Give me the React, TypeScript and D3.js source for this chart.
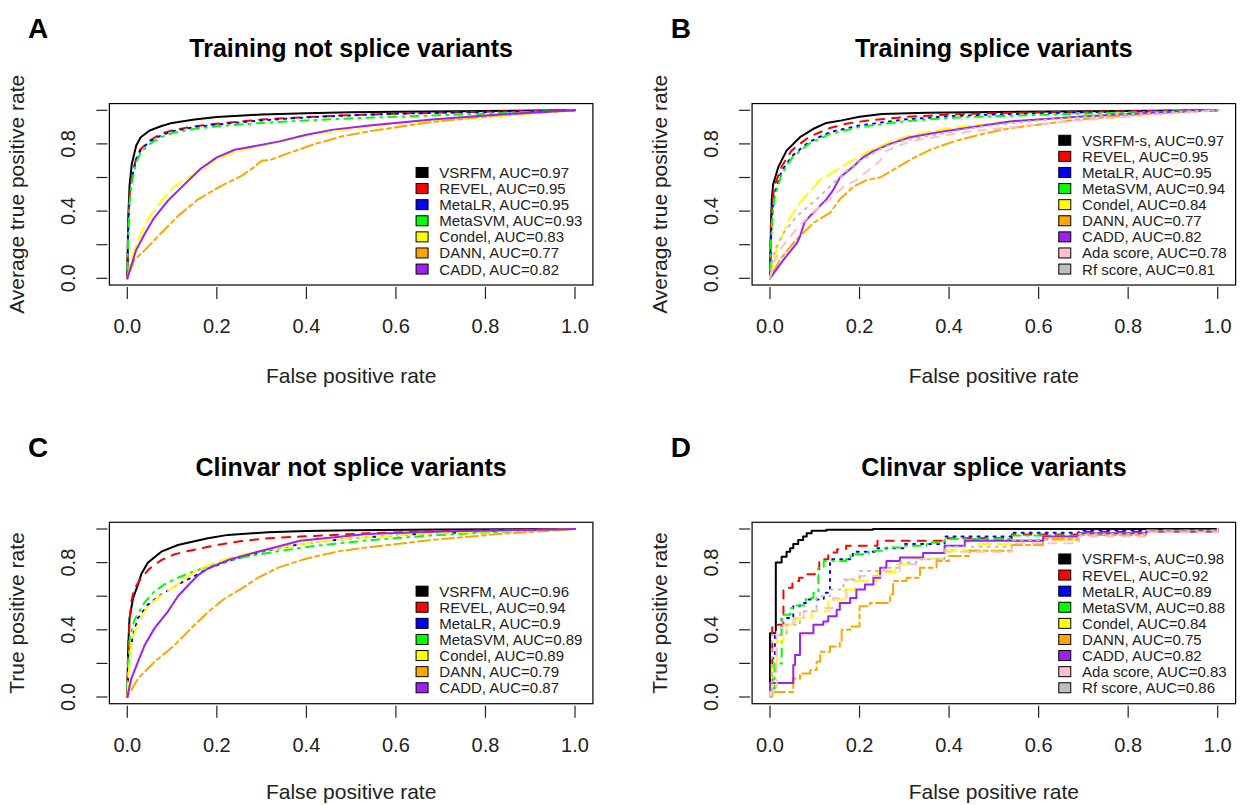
import React, { useEffect, useRef } from 'react';
import * as d3 from 'd3';

type Pt = [number, number];

// A - Training not splice variants
const aVsrfm: Pt[] = [[0, 0], [0.002, 0.35], [0.005, 0.55], [0.01, 0.68], [0.02, 0.79], [0.03, 0.84], [0.05, 0.88], [0.075, 0.905], [0.1, 0.925], [0.15, 0.945], [0.2, 0.96], [0.3, 0.975], [0.4, 0.983], [0.5, 0.988], [0.6, 0.992], [0.8, 0.996], [1, 1]];
const aRevel: Pt[] = [[0, 0], [0.002, 0.3], [0.005, 0.5], [0.01, 0.6], [0.02, 0.72], [0.03, 0.77], [0.05, 0.82], [0.075, 0.86], [0.1, 0.88], [0.15, 0.905], [0.2, 0.92], [0.3, 0.945], [0.4, 0.96], [0.5, 0.972], [0.6, 0.98], [0.8, 0.992], [1, 1]];
const aMetaLR: Pt[] = [[0, 0], [0.002, 0.28], [0.005, 0.48], [0.01, 0.59], [0.02, 0.71], [0.03, 0.765], [0.05, 0.815], [0.075, 0.85], [0.1, 0.875], [0.15, 0.9], [0.2, 0.915], [0.3, 0.94], [0.4, 0.958], [0.5, 0.97], [0.6, 0.98], [0.8, 0.99], [1, 1]];
const aMetaSVM: Pt[] = [[0, 0], [0.002, 0.25], [0.005, 0.45], [0.01, 0.57], [0.02, 0.69], [0.03, 0.75], [0.05, 0.8], [0.075, 0.84], [0.1, 0.865], [0.15, 0.89], [0.2, 0.905], [0.3, 0.925], [0.4, 0.94], [0.5, 0.952], [0.6, 0.962], [0.8, 0.98], [1, 1]];
const aCondel: Pt[] = [[0, 0], [0.005, 0.06], [0.016, 0.17], [0.031, 0.27], [0.05, 0.37], [0.076, 0.46], [0.106, 0.55], [0.136, 0.6], [0.173, 0.66], [0.2, 0.71], [0.25, 0.76], [0.3, 0.79], [0.4, 0.85], [0.5, 0.89], [0.6, 0.92], [0.7, 0.94], [0.8, 0.96], [0.9, 0.98], [1, 1]];
const aDann: Pt[] = [[0, 0], [0.016, 0.11], [0.04, 0.17], [0.076, 0.27], [0.113, 0.37], [0.158, 0.47], [0.21, 0.55], [0.255, 0.61], [0.285, 0.665], [0.3, 0.7], [0.32, 0.705], [0.36, 0.745], [0.42, 0.8], [0.48, 0.845], [0.54, 0.875], [0.68, 0.93], [0.83, 0.97], [1, 1]];
const aCadd: Pt[] = [[0, 0], [0.02, 0.17], [0.04, 0.27], [0.06, 0.36], [0.09, 0.46], [0.13, 0.565], [0.165, 0.655], [0.2, 0.72], [0.24, 0.765], [0.28, 0.785], [0.34, 0.815], [0.4, 0.855], [0.46, 0.885], [0.54, 0.91], [0.68, 0.945], [0.83, 0.975], [1, 1]];

// B - Training splice variants
const bVsrfm: Pt[] = [[0, 0], [0.002, 0.3], [0.004, 0.47], [0.007, 0.56], [0.019, 0.665], [0.037, 0.76], [0.067, 0.84], [0.097, 0.89], [0.126, 0.925], [0.16, 0.94], [0.2, 0.962], [0.25, 0.978], [0.35, 0.985], [0.5, 0.99], [0.7, 0.995], [1, 1]];
const bRevel: Pt[] = [[0, 0], [0.002, 0.3], [0.005, 0.45], [0.01, 0.55], [0.026, 0.665], [0.048, 0.76], [0.086, 0.84], [0.134, 0.895], [0.17, 0.92], [0.22, 0.94], [0.3, 0.96], [0.4, 0.975], [0.5, 0.983], [0.7, 0.992], [1, 1]];
const bMetaLR: Pt[] = [[0, 0], [0.002, 0.22], [0.005, 0.38], [0.01, 0.5], [0.026, 0.64], [0.05, 0.73], [0.086, 0.81], [0.134, 0.87], [0.2, 0.91], [0.3, 0.945], [0.4, 0.965], [0.5, 0.975], [0.7, 0.988], [1, 1]];
const bMetaSVM: Pt[] = [[0, 0], [0.002, 0.2], [0.005, 0.35], [0.01, 0.48], [0.026, 0.62], [0.05, 0.72], [0.086, 0.8], [0.134, 0.86], [0.2, 0.9], [0.3, 0.935], [0.4, 0.955], [0.5, 0.965], [0.7, 0.98], [1, 1]];
const bCondel: Pt[] = [[0, 0], [0.015, 0.17], [0.03, 0.27], [0.045, 0.36], [0.067, 0.45], [0.086, 0.51], [0.112, 0.585], [0.149, 0.645], [0.186, 0.705], [0.223, 0.76], [0.275, 0.82], [0.305, 0.845], [0.39, 0.89], [0.54, 0.935], [0.7, 0.965], [0.85, 0.985], [1, 1]];
const bDann: Pt[] = [[0, 0], [0.022, 0.11], [0.052, 0.21], [0.074, 0.27], [0.097, 0.33], [0.134, 0.39], [0.156, 0.47], [0.186, 0.545], [0.216, 0.585], [0.246, 0.6], [0.275, 0.645], [0.313, 0.705], [0.357, 0.765], [0.417, 0.82], [0.476, 0.86], [0.54, 0.895], [0.69, 0.945], [0.84, 0.978], [1, 1]];
const bCadd: Pt[] = [[0, 0], [0.03, 0.11], [0.06, 0.21], [0.067, 0.25], [0.078, 0.34], [0.104, 0.41], [0.126, 0.47], [0.141, 0.525], [0.156, 0.6], [0.186, 0.665], [0.208, 0.72], [0.23, 0.755], [0.268, 0.8], [0.313, 0.84], [0.357, 0.86], [0.39, 0.875], [0.54, 0.935], [0.69, 0.962], [0.85, 0.985], [1, 1]];
const bAda: Pt[] = [[0, 0], [0.01, 0.1], [0.022, 0.17], [0.052, 0.27], [0.086, 0.37], [0.112, 0.43], [0.134, 0.47], [0.164, 0.545], [0.193, 0.585], [0.23, 0.665], [0.246, 0.7], [0.26, 0.76], [0.313, 0.815], [0.4, 0.855], [0.465, 0.88], [0.576, 0.91], [0.69, 0.94], [0.84, 0.97], [1, 1]];
const bRf: Pt[] = [[0, 0], [0.005, 0.1], [0.011, 0.17], [0.03, 0.27], [0.06, 0.37], [0.104, 0.47], [0.141, 0.565], [0.179, 0.66], [0.216, 0.72], [0.253, 0.78], [0.3, 0.82], [0.38, 0.86], [0.465, 0.9], [0.6, 0.94], [0.75, 0.97], [0.9, 0.99], [1, 1]];

// C - Clinvar not splice variants
const cVsrfm: Pt[] = [[0, 0], [0.002, 0.3], [0.005, 0.47], [0.013, 0.59], [0.024, 0.67], [0.031, 0.73], [0.046, 0.8], [0.076, 0.865], [0.113, 0.905], [0.18, 0.945], [0.225, 0.965], [0.314, 0.98], [0.4, 0.988], [0.5, 0.993], [0.7, 0.997], [1, 1]];
const cRevel: Pt[] = [[0, 0], [0.002, 0.3], [0.005, 0.45], [0.009, 0.57], [0.016, 0.645], [0.031, 0.71], [0.05, 0.765], [0.076, 0.815], [0.106, 0.85], [0.15, 0.877], [0.2, 0.905], [0.255, 0.928], [0.314, 0.945], [0.386, 0.955], [0.535, 0.974], [0.68, 0.987], [1, 1]];
const cMetaLR: Pt[] = [[0, 0], [0.002, 0.15], [0.006, 0.27], [0.013, 0.37], [0.024, 0.47], [0.046, 0.55], [0.076, 0.61], [0.113, 0.67], [0.15, 0.72], [0.18, 0.765], [0.232, 0.815], [0.3, 0.865], [0.386, 0.91], [0.5, 0.945], [0.65, 0.97], [0.8, 0.985], [1, 1]];
const cMetaSVM: Pt[] = [[0, 0], [0.002, 0.2], [0.006, 0.36], [0.016, 0.46], [0.039, 0.565], [0.061, 0.63], [0.083, 0.67], [0.113, 0.71], [0.15, 0.75], [0.195, 0.79], [0.255, 0.83], [0.33, 0.865], [0.42, 0.9], [0.535, 0.932], [0.68, 0.962], [0.83, 0.983], [1, 1]];
const cCondel: Pt[] = [[0, 0], [0.004, 0.17], [0.007, 0.27], [0.013, 0.36], [0.028, 0.46], [0.046, 0.54], [0.083, 0.62], [0.12, 0.685], [0.15, 0.745], [0.18, 0.785], [0.232, 0.83], [0.3, 0.87], [0.4, 0.915], [0.5, 0.945], [0.65, 0.97], [0.8, 0.985], [1, 1]];
const cDann: Pt[] = [[0, 0], [0.024, 0.11], [0.061, 0.21], [0.106, 0.31], [0.143, 0.41], [0.18, 0.505], [0.217, 0.585], [0.255, 0.645], [0.292, 0.71], [0.337, 0.77], [0.389, 0.815], [0.433, 0.845], [0.478, 0.87], [0.535, 0.89], [0.68, 0.935], [0.83, 0.97], [1, 1]];
const cCadd: Pt[] = [[0, 0], [0.009, 0.11], [0.024, 0.21], [0.039, 0.31], [0.061, 0.41], [0.091, 0.51], [0.113, 0.6], [0.136, 0.665], [0.158, 0.725], [0.18, 0.765], [0.225, 0.815], [0.292, 0.865], [0.386, 0.93], [0.535, 0.97], [0.7, 0.985], [1, 1]];

// D - Clinvar splice variants (step curves)
const dVsrfm: Pt[] = [[0, 0], [0, 0.38], [0.013, 0.8], [0.026, 0.835], [0.037, 0.865], [0.045, 0.885], [0.052, 0.91], [0.063, 0.935], [0.074, 0.955], [0.082, 0.975], [0.093, 0.99], [0.126, 0.996], [0.23, 1], [1, 1]];
const dRevel: Pt[] = [[0, 0], [0.005, 0.43], [0.03, 0.65], [0.05, 0.69], [0.065, 0.71], [0.08, 0.73], [0.1, 0.76], [0.11, 0.82], [0.13, 0.86], [0.15, 0.88], [0.17, 0.9], [0.24, 0.93], [0.39, 0.945], [0.54, 0.968], [0.69, 0.984], [0.84, 0.994], [1, 1]];
const dMetaLR: Pt[] = [[0, 0], [0.004, 0.23], [0.011, 0.37], [0.026, 0.47], [0.052, 0.54], [0.067, 0.56], [0.082, 0.58], [0.12, 0.62], [0.134, 0.82], [0.18, 0.83], [0.185, 0.865], [0.24, 0.885], [0.3, 0.91], [0.39, 0.955], [0.54, 0.978], [0.69, 0.992], [1, 1]];
const dMetaSVM: Pt[] = [[0, 0], [0.004, 0.05], [0.01, 0.2], [0.026, 0.49], [0.045, 0.53], [0.056, 0.545], [0.08, 0.59], [0.097, 0.62], [0.108, 0.77], [0.12, 0.81], [0.17, 0.83], [0.18, 0.85], [0.22, 0.87], [0.26, 0.89], [0.3, 0.9], [0.35, 0.92], [0.39, 0.94], [0.54, 0.962], [0.69, 0.974], [0.84, 0.985], [1, 1]];
const dCondel: Pt[] = [[0, 0], [0.004, 0.2], [0.015, 0.33], [0.03, 0.37], [0.037, 0.43], [0.056, 0.47], [0.093, 0.51], [0.13, 0.58], [0.167, 0.64], [0.19, 0.69], [0.24, 0.74], [0.28, 0.79], [0.316, 0.825], [0.39, 0.875], [0.465, 0.91], [0.54, 0.935], [0.69, 0.97], [0.84, 0.99], [1, 1]];
const dDann: Pt[] = [[0, 0], [0, 0.03], [0.052, 0.11], [0.067, 0.14], [0.09, 0.16], [0.104, 0.21], [0.112, 0.27], [0.134, 0.3], [0.156, 0.33], [0.16, 0.4], [0.179, 0.42], [0.2, 0.54], [0.223, 0.56], [0.268, 0.61], [0.275, 0.69], [0.305, 0.71], [0.335, 0.77], [0.372, 0.81], [0.4, 0.84], [0.446, 0.87], [0.54, 0.905], [0.61, 0.94], [0.69, 0.965], [0.84, 0.984], [1, 1]];
const dCadd: Pt[] = [[0, 0], [0, 0.083], [0.052, 0.19], [0.056, 0.25], [0.067, 0.38], [0.097, 0.43], [0.119, 0.45], [0.13, 0.48], [0.149, 0.52], [0.156, 0.56], [0.179, 0.59], [0.193, 0.64], [0.212, 0.67], [0.231, 0.71], [0.246, 0.77], [0.26, 0.81], [0.29, 0.83], [0.342, 0.857], [0.39, 0.9], [0.435, 0.93], [0.61, 0.955], [0.69, 0.975], [0.84, 0.985], [1, 1]];
const dAda: Pt[] = [[0, 0], [0, 0.03], [0.015, 0.41], [0.03, 0.43], [0.052, 0.47], [0.075, 0.51], [0.104, 0.53], [0.141, 0.59], [0.171, 0.7], [0.2, 0.72], [0.253, 0.75], [0.29, 0.79], [0.327, 0.82], [0.39, 0.865], [0.54, 0.915], [0.69, 0.955], [0.84, 0.98], [1, 1]];
const dRf: Pt[] = [[0, 0], [0.004, 0.37], [0.037, 0.43], [0.067, 0.51], [0.104, 0.6], [0.134, 0.64], [0.164, 0.7], [0.2, 0.75], [0.253, 0.77], [0.29, 0.8], [0.327, 0.82], [0.39, 0.895], [0.54, 0.935], [0.69, 0.97], [0.84, 0.99], [1, 1]];

const namesNotSplice = ['VSRFM', 'REVEL', 'MetaLR', 'MetaSVM', 'Condel', 'DANN', 'CADD'];
const namesSplice = ['VSRFM-s', 'REVEL', 'MetaLR', 'MetaSVM', 'Condel', 'DANN', 'CADD', 'Ada score', 'Rf score'];
const aucA = ['0.97', '0.95', '0.95', '0.93', '0.83', '0.77', '0.82'];
const aucB = ['0.97', '0.95', '0.95', '0.94', '0.84', '0.77', '0.82', '0.78', '0.81'];
const aucC = ['0.96', '0.94', '0.9', '0.89', '0.89', '0.79', '0.87'];
const aucD = ['0.98', '0.92', '0.89', '0.88', '0.84', '0.75', '0.82', '0.83', '0.86'];

const xTicks = [0, 0.2, 0.4, 0.6, 0.8, 1];
const yTickLabels = [0, 0.4, 0.8];

const colors = ['#000000', '#ff0000', '#0000ff', '#00ff00', '#ffff00', '#ffa500', '#a020f0', '#ffc0cb', '#bebebe'];
const dashes = ['none', '8,8', '2,6', '2,6,8,6', '14,6', '4,4,12,4', 'none', '8,8', '2,6'];

const panels = [
    { letter: 'A', title: 'Training not splice variants', yLabel: 'Average true positive rate', col: 0, row: 0, names: namesNotSplice, aucs: aucA, curves: [aVsrfm, aRevel, aMetaLR, aMetaSVM, aCondel, aDann, aCadd], step: false },
    { letter: 'B', title: 'Training splice variants', yLabel: 'Average true positive rate', col: 1, row: 0, names: namesSplice, aucs: aucB, curves: [bVsrfm, bRevel, bMetaLR, bMetaSVM, bCondel, bDann, bCadd, bAda, bRf], step: false },
    { letter: 'C', title: 'Clinvar not splice variants', yLabel: 'True positive rate', col: 0, row: 1, names: namesNotSplice, aucs: aucC, curves: [cVsrfm, cRevel, cMetaLR, cMetaSVM, cCondel, cDann, cCadd], step: false },
    { letter: 'D', title: 'Clinvar splice variants', yLabel: 'True positive rate', col: 1, row: 1, names: namesSplice, aucs: aucD, curves: [dVsrfm, dRevel, dMetaLR, dMetaSVM, dCondel, dDann, dCadd, dAda, dRf], step: true }
];

const App = () => {
    const ref = useRef<SVGSVGElement>(null);

    useEffect(() => {
        const width = 1240;
        const height = 805;
        const svg = d3.select(ref.current);
        svg.selectAll('*').remove();
        svg.attr('width', width).attr('height', height);

        const font = '"Liberation Sans", Arial, Helvetica, sans-serif';
        const colStep = 642.7;
        const rowStep = 418.7;

        panels.forEach(p => {
            const dx = p.col * colStep;
            const dy = p.row * rowStep;
            const g = svg.append('g').attr('font-family', font);

            const x = d3.scaleLinear().domain([0, 1]).range([127.3 + dx, 575 + dx]);
            const y = d3.scaleLinear().domain([0, 1]).range([278.3 + dy, 110.3 + dy]);

            const left = x(-0.04), right = x(1.04), top = y(1.04), bottom = y(-0.04);

            // curves
            const clipId = `clip-${p.letter}`;
            g.append('clipPath').attr('id', clipId)
                .append('rect')
                .attr('x', left).attr('y', top)
                .attr('width', right - left).attr('height', bottom - top);

            const line = d3.line<Pt>()
                .x(d => x(d[0]))
                .y(d => y(d[1]))
                .curve(p.step ? d3.curveStepAfter : d3.curveLinear);

            g.append('g').attr('clip-path', `url(#${clipId})`)
                .selectAll('path')
                .data(p.curves)
                .enter()
                .append('path')
                .attr('d', d => line(d))
                .attr('fill', 'none')
                .attr('stroke', (d, i) => colors[i])
                .attr('stroke-width', 2)
                .attr('stroke-linecap', 'round')
                .attr('stroke-linejoin', 'round')
                .attr('stroke-dasharray', (d, i) => dashes[i]);

            // box
            g.append('rect')
                .attr('x', left).attr('y', top)
                .attr('width', right - left).attr('height', bottom - top)
                .attr('fill', 'none')
                .attr('stroke', '#000')
                .attr('stroke-width', 1.2);

            // x axis
            g.selectAll('.xtick')
                .data(xTicks)
                .enter()
                .append('line')
                .attr('x1', d => x(d)).attr('x2', d => x(d))
                .attr('y1', bottom + 2).attr('y2', bottom + 14)
                .attr('stroke', '#222').attr('stroke-width', 1.2);
            g.selectAll('.xlab')
                .data(xTicks)
                .enter()
                .append('text')
                .attr('x', d => x(d))
                .attr('y', bottom + 48)
                .attr('text-anchor', 'middle')
                .attr('font-size', 20)
                .attr('fill', '#222')
                .text(d => d3.format('.1f')(d));
            g.append('text')
                .attr('x', x(0.5))
                .attr('y', Math.min(383 + dy, 799))
                .attr('text-anchor', 'middle')
                .attr('font-size', 21)
                .attr('fill', '#222')
                .text('False positive rate');

            // y axis
            g.selectAll('.ytick')
                .data(xTicks)
                .enter()
                .append('line')
                .attr('x1', left - 13).attr('x2', left - 2)
                .attr('y1', d => y(d)).attr('y2', d => y(d))
                .attr('stroke', '#222').attr('stroke-width', 1.2);
            g.selectAll('.ylab')
                .data(yTickLabels)
                .enter()
                .append('text')
                .attr('transform', d => `translate(${left - 34},${y(d)}) rotate(-90)`)
                .attr('text-anchor', 'middle')
                .attr('font-size', 20)
                .attr('fill', '#222')
                .text(d => d3.format('.1f')(d));
            g.append('text')
                .attr('transform', `translate(${24 + dx},${y(0.5)}) rotate(-90)`)
                .attr('text-anchor', 'middle')
                .attr('font-size', 21)
                .attr('fill', '#222')
                .text(p.yLabel);

            // titles
            g.append('text')
                .attr('x', x(0.5))
                .attr('y', 57 + dy)
                .attr('text-anchor', 'middle')
                .attr('font-size', 25)
                .attr('font-weight', 'bold')
                .text(p.title);
            g.append('text')
                .attr('x', 28 + dx)
                .attr('y', 38 + dy)
                .attr('font-size', 28)
                .attr('font-weight', 'bold')
                .text(p.letter);

            // legend
            const n = p.names.length;
            const rowH = 16.1;
            const lastRow = y(0.055);
            const legend = g.append('g');
            legend.selectAll('rect')
                .data(p.names)
                .enter()
                .append('rect')
                .attr('x', x(0.645))
                .attr('y', (d, i) => lastRow - (n - 1 - i) * rowH - 5)
                .attr('width', 12)
                .attr('height', 10)
                .attr('fill', (d, i) => colors[i])
                .attr('stroke', '#000')
                .attr('stroke-width', 1);
            legend.selectAll('text')
                .data(p.names)
                .enter()
                .append('text')
                .attr('x', x(0.697))
                .attr('y', (d, i) => lastRow - (n - 1 - i) * rowH + 5.5)
                .attr('font-size', 15)
                .attr('fill', '#222')
                .text((d, i) => `${d}, AUC=${p.aucs[i]}`);
        });
    }, []);

    return (
        <svg ref={ref} style={{ position: 'absolute', left: 0, top: 0, background: '#fff' }}></svg>
    );
};

export default App;
